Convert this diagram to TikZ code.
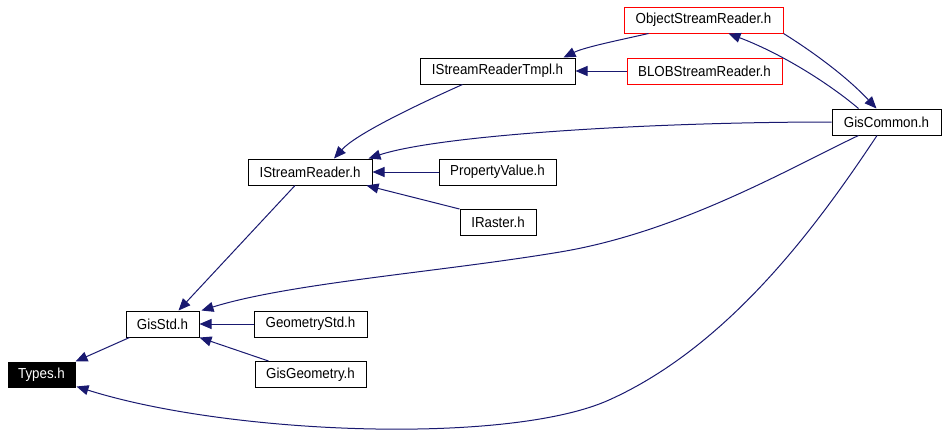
\documentclass[tikz,border=0pt]{standalone}
\usepackage{fontspec}
\setmainfont{Liberation Sans}[FakeStretch=0.92]
\usetikzlibrary{arrows.meta,calc}
\definecolor{edgeblue}{HTML}{191970}
\begin{document}
\begin{tikzpicture}[x=1pt,y=-1pt,
  box/.style={draw=black, line width=1pt, inner sep=0pt, minimum height=26pt,
    font=\fontsize{14.5}{16}\selectfont, text=black, fill=white},
  redbox/.style={box, draw=red},
  blackbox/.style={box, fill=black, text=white},
  edge/.style={draw=edgeblue, line width=1pt, -{Triangle[length=12pt,width=10pt]}},
]
\useasboundingbox (0,0) rectangle (947,445);

\node[redbox, minimum width=159pt] (obj) at (703.5,20) {ObjectStreamReader.h};
\node[box, minimum width=155pt] (tmpl) at (497.5,71) {IStreamReaderTmpl.h};
\node[redbox, minimum width=155pt] (blob) at (704.5,71) {BLOBStreamReader.h};
\node[box, minimum width=109pt] (gc) at (886.5,122) {GisCommon.h};
\node[box, minimum width=124pt] (isr) at (310,172) {IStreamReader.h};
\node[box, minimum width=117pt] (pv) at (497.5,172) {PropertyValue.h};
\node[box, minimum width=76pt] (ir) at (498,222.5) {IRaster.h};
\node[box, minimum width=73pt] (gisstd) at (162.5,324) {GisStd.h};
\node[box, minimum width=113pt] (geostd) at (310.5,324) {GeometryStd.h};
\node[box, minimum width=111pt] (gisgeo) at (310.5,374.5) {GisGeometry.h};
\node[blackbox, minimum width=67pt, minimum height=25pt] (types) at (41.5,374.5) {Types.h};

% edges
\draw[edge] ($(obj.south)+(-55,0)$) .. controls (620,40) and (585,47) .. ($(tmpl.north east)+(-12,0)$);
\draw[edge] (blob.west) -- (tmpl.east);
\draw[edge] ($(gc.north)+(-28,0)$) .. controls (832,86) and (785,55) .. ($(obj.south)+(25,0)$);
\draw[edge] (obj.south east) .. controls (810,50) and (845,75) .. ($(gc.north)+(-10,0)$);
\draw[edge] ($(tmpl.south)+(-35,0)$) .. controls (410,108) and (355,135) .. ($(isr.north)+(24,0)$);
\draw[edge] (gc.west) .. controls (650,122) and (440,135) .. ($(isr.north east)+(-4,0)$);
\draw[edge] (pv.west) -- (isr.east);
\draw[edge] (ir.north west) -- ($(isr.south east)+(-6,0)$);
\draw[edge] ($(isr.south)+(-15,0)$) -- ($(gisstd.north)+(16,0)$);
\draw[edge] ($(gc.south)+(-28,0)$) .. controls (790,168) and (680,232) .. (560,252)
   .. controls (440,272) and (290,283) .. ($(gisstd.north east)+(2,0)$);
\draw[edge] (geostd.west) -- (gisstd.east);
\draw[edge] ($(gisgeo.north west)+(14,0)$) -- (gisstd.south east);
\draw[edge] ($(gisstd.south west)+(4,0)$) -- (types.north east);
\draw[edge] ($(gc.south)+(-9.5,0)$) .. controls (817,226) and (729,346) .. (609,400)
   .. controls (509,445) and (230,435) .. ($(types.south east)+(1,-1)$);
\end{tikzpicture}
\end{document}
